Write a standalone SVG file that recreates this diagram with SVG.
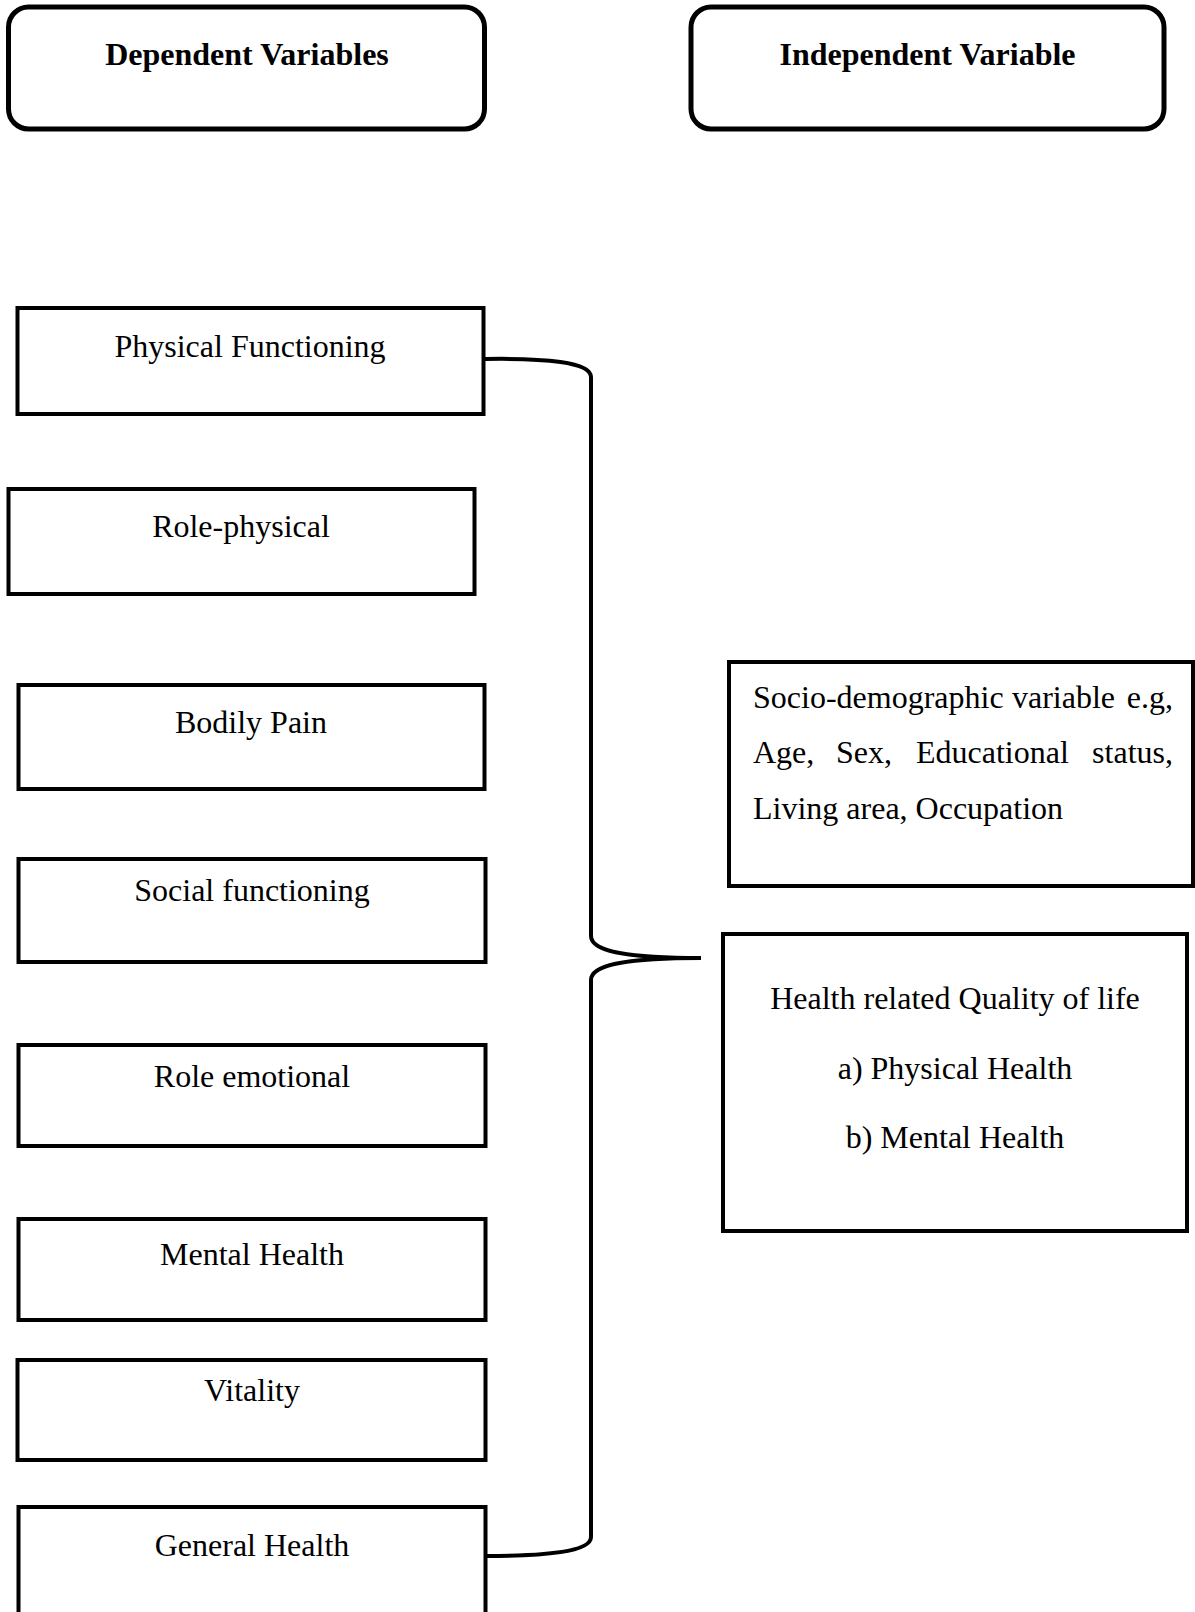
<svg xmlns="http://www.w3.org/2000/svg" width="1195" height="1612" viewBox="0 0 1195 1612">
<style>
.box{fill:#fff;stroke:#000;stroke-width:4}
.rbox{fill:#fff;stroke:#000;stroke-width:5}
.t{font-family:"Liberation Serif","Times New Roman",serif;font-size:32px;fill:#000}
.c{text-anchor:middle}
.b{font-weight:bold}
.con{fill:none;stroke:#000;stroke-width:4;stroke-linejoin:round}
</style>
<rect width="1195" height="1612" fill="#fff"/>
<g id="dependent-variables">
<rect class="rbox" x="8.5" y="7" width="476" height="122" rx="20"/>
<text class="t b c" x="247" y="65">Dependent Variables</text>
</g>
<g id="independent-variable">
<rect class="rbox" x="691" y="7" width="473" height="122" rx="20"/>
<text class="t b c" x="927.5" y="65">Independent Variable</text>
</g>
<g id="physical-functioning">
<rect class="box" x="17.5" y="308" width="466" height="106"/>
<text class="t c" x="250" y="357">Physical Functioning</text>
</g>
<g id="role-physical">
<rect class="box" x="8.5" y="489" width="466" height="105"/>
<text class="t c" x="241" y="537">Role-physical</text>
</g>
<g id="bodily-pain">
<rect class="box" x="18.5" y="685" width="466" height="104"/>
<text class="t c" x="251" y="733">Bodily Pain</text>
</g>
<g id="social-functioning">
<rect class="box" x="18.5" y="859" width="467" height="103"/>
<text class="t c" x="252" y="901">Social functioning</text>
</g>
<g id="role-emotional">
<rect class="box" x="18.5" y="1045" width="467" height="101"/>
<text class="t c" x="252" y="1087">Role emotional</text>
</g>
<g id="mental-health">
<rect class="box" x="18.5" y="1219" width="467" height="101"/>
<text class="t c" x="252" y="1265">Mental Health</text>
</g>
<g id="vitality">
<rect class="box" x="17.5" y="1360" width="468" height="100"/>
<text class="t c" x="252" y="1401">Vitality</text>
</g>
<g id="general-health">
<rect class="box" x="18.5" y="1507" width="467" height="120"/>
<text class="t c" x="252" y="1556">General Health</text>
</g>
<g id="socio-demographic">
<rect class="box" x="729" y="662" width="464" height="224"/>
<text class="t" x="753" y="708">Socio-demographic</text>
<text class="t" x="1012" y="708">variable</text>
<text class="t" x="1173" y="708" text-anchor="end">e.g,</text>
<text class="t" x="753" y="763">Age,</text>
<text class="t" x="836" y="763">Sex,</text>
<text class="t" x="916" y="763">Educational</text>
<text class="t" x="1173" y="763" text-anchor="end">status,</text>
<text class="t" x="753" y="819">Living area, Occupation</text>
</g>
<g id="hrqol">
<rect class="box" x="723" y="934" width="464" height="297"/>
<text class="t c" x="955" y="1009">Health related Quality of life</text>
<text class="t c" x="955" y="1079">a) Physical Health</text>
<text class="t c" x="955" y="1148">b) Mental Health</text>
</g>
<g id="connectors">
<path class="con" d="M485,359 C545,358 591,362 591,377 L591,936 C591,950 620,958 701,958"/>
<path class="con" d="M701,958 C620,958 591,966 591,980 L591,1537 C591,1552 545,1556 485,1556"/>
</g>
</svg>
